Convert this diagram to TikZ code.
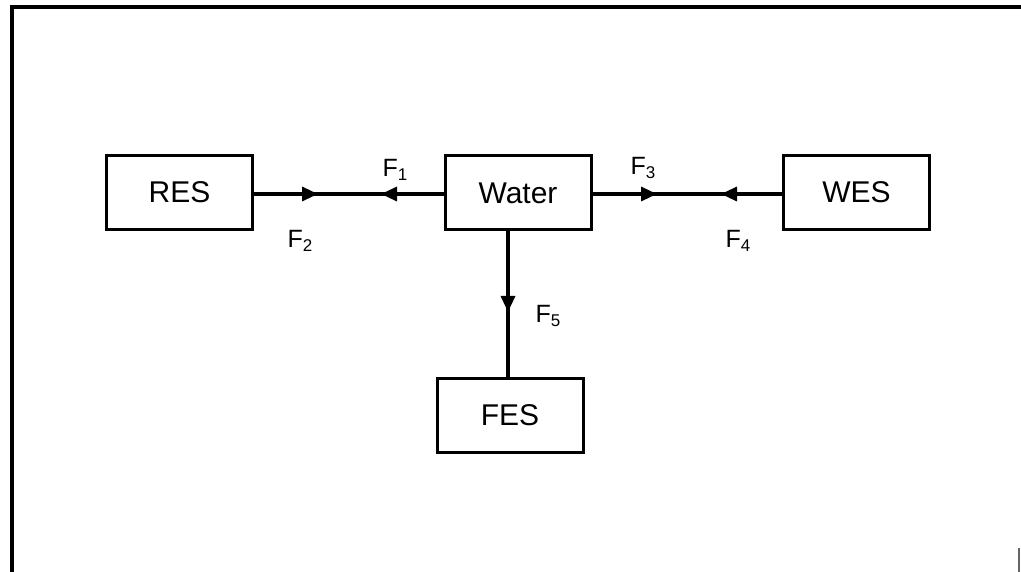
\documentclass[tikz,border=0pt]{standalone}
\usepackage{fontspec}
\setmainfont{Liberation Sans}
\usetikzlibrary{arrows.meta}
\newcommand{\flowname}[1]{F\raisebox{-0.3ex}{\fontsize{17}{19}\selectfont #1}}

\begin{document}
\begin{tikzpicture}[x=1pt, y=-1pt,
  sector/.style={draw, line width=3pt, minimum width=146pt, minimum height=74pt, inner sep=0pt, font=\fontsize{30}{34}\selectfont},
  flow/.style={line width=3.2pt},
  tip/.style={line width=3.2pt, -{Triangle[length=16pt,width=14pt]}},
  lab/.style={font=\fontsize{25}{28}\selectfont}]

\useasboundingbox (0,0) rectangle (1021,572);

% FRAME (top and left only, as scanned)
\draw[line width=3.2pt] (1021,7) -- (12,7) -- (12,572);
\draw[line width=1.2pt, black!60] (1019,548) -- (1019,572);

% SECTOR BOXES
\node[sector] (res) at (179.5,192.5) {RES};
\node[sector] (water) at (518,193) {Water};
\node[sector] (wes) at (856.5,192.5) {WES};
\node[sector] (fes) at (510,415) {FES};

% RES -- Water: F2 in, F1 out
\coordinate (f2tip) at (318,194);
\coordinate (f1tip) at (381,194);
\draw[flow] (res.east |- f2tip) -- (water.west |- f2tip);
\draw[tip] (res.east |- f2tip) -- (f2tip);
\draw[tip] (water.west |- f1tip) -- (f1tip);
\node[lab] (f1) at (395,170) {\flowname{1}};
\node[lab] (f2) at (300,241) {\flowname{2}};

% Water -- WES: F3 out, F4 in
\coordinate (f3tip) at (657,194);
\coordinate (f4tip) at (721,194);
\draw[flow] (water.east |- f3tip) -- (wes.west |- f3tip);
\draw[tip] (water.east |- f3tip) -- (f3tip);
\draw[tip] (wes.west |- f4tip) -- (f4tip);
\node[lab] (f3) at (643,168) {\flowname{3}};
\node[lab] (f4) at (738,241) {\flowname{4}};

% Water -- FES: F5
\coordinate (f5tip) at (508,312);
\draw[flow] (water.south -| f5tip) -- (fes.north -| f5tip);
\draw[tip] (water.south -| f5tip) -- (f5tip);
\node[lab] (f5) at (548,316) {\flowname{5}};

\end{tikzpicture}
\end{document}
